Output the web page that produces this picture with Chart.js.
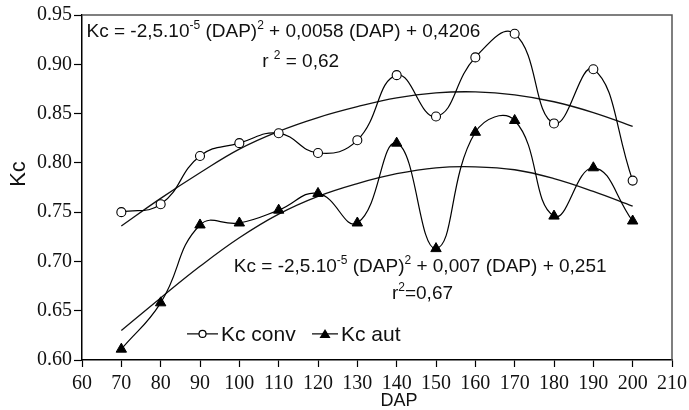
<!DOCTYPE html>
<html>
<head>
<meta charset="utf-8">
<script src="https://cdn.jsdelivr.net/npm/chart.js@4.4.1/dist/chart.umd.min.js"></script>
<style>
  html, body { margin: 0; padding: 0; background: #fff; }
</style>
</head>
<body>
<canvas id="myChart" width="689" height="410"></canvas>
<script>
const dap = [70, 80, 90, 100, 110, 120, 130, 140, 150, 160, 170, 180, 190, 200];
const kcConv = [0.750, 0.758, 0.807, 0.820, 0.830, 0.810, 0.823, 0.889, 0.847, 0.907, 0.931, 0.840, 0.895, 0.782];
const kcAut = [0.611, 0.658, 0.737, 0.739, 0.752, 0.769, 0.739, 0.820, 0.713, 0.831, 0.843, 0.746, 0.795, 0.741];
// fitted curves as drawn in the figure
const trendConv = [0.736, 0.764, 0.790, 0.814, 0.832, 0.846, 0.857, 0.866, 0.871, 0.872, 0.869, 0.862, 0.851, 0.837];
const trendAut = [0.630, 0.663, 0.695, 0.724, 0.748, 0.766, 0.779, 0.789, 0.795, 0.796, 0.793, 0.784, 0.771, 0.756];
const xTicks = [60, 70, 80, 90, 100, 110, 120, 130, 140, 150, 160, 170, 180, 190, 200, 210];
const yTicks = [0.60, 0.65, 0.70, 0.75, 0.80, 0.85, 0.90, 0.95];

const pts = (ys) => dap.map((x, i) => ({ x: x, y: ys[i] }));

const SANS = '"Liberation Sans", Arial, sans-serif';
const SERIF = '"Liberation Serif", "Times New Roman", serif';

// draws text with superscript parts: [text, isSup]
function drawRich(ctx, parts, x, y, size) {
  let cx = x;
  parts.forEach(([t, sup]) => {
    ctx.font = (sup ? Math.round(size * 0.62) : size) + 'px ' + SANS;
    ctx.fillText(t, cx, sup ? y - size * 0.42 : y);
    cx += ctx.measureText(t).width;
  });
}

const annotations = {
  id: 'annotations',
  afterDraw(chart) {
    const ctx = chart.ctx;
    const xs = chart.scales.x, ys = chart.scales.y;
    const a = chart.chartArea;
    ctx.save();

    // frame
    ctx.strokeStyle = '#555';
    ctx.lineWidth = 1.5;
    ctx.beginPath();
    ctx.moveTo(a.left, a.top);
    ctx.lineTo(a.right, a.top);
    ctx.lineTo(a.right, a.bottom);
    ctx.stroke();

    ctx.fillStyle = '#111';
    ctx.textBaseline = 'alphabetic';
    ctx.textAlign = 'left';
    drawRich(ctx, [['Kc = -2,5.10'], ['-5', true], [' (DAP)'], ['2', true], [' + 0,0058 (DAP) + 0,4206']],
      xs.getPixelForValue(61.15), ys.getPixelForValue(0.928), 19);
    drawRich(ctx, [['r '], ['2', true], [' = 0,62']],
      xs.getPixelForValue(105.8), ys.getPixelForValue(0.8976), 19);
    drawRich(ctx, [['Kc = -2,5.10'], ['-5', true], [' (DAP)'], ['2', true], [' + 0,007 (DAP) + 0,251']],
      xs.getPixelForValue(98.6), ys.getPixelForValue(0.6897), 19);
    drawRich(ctx, [['r'], ['2', true], ['=0,67']],
      xs.getPixelForValue(138.8), ys.getPixelForValue(0.662), 19);

    // legend
    const lx = xs.getPixelForValue(86.7), ly = ys.getPixelForValue(0.6265);
    ctx.strokeStyle = '#000';
    ctx.lineWidth = 1.2;
    ctx.beginPath(); ctx.moveTo(lx, ly); ctx.lineTo(lx + 31, ly); ctx.stroke();
    ctx.beginPath(); ctx.arc(lx + 15.5, ly, 3.5, 0, Math.PI * 2);
    ctx.fillStyle = '#fff'; ctx.fill(); ctx.stroke();
    ctx.fillStyle = '#111';
    ctx.font = '21px ' + SANS;
    ctx.textBaseline = 'middle';
    ctx.fillText('Kc conv', lx + 34, ly + 1);
    const lx2 = lx + 125;
    ctx.beginPath(); ctx.moveTo(lx2, ly); ctx.lineTo(lx2 + 26, ly); ctx.stroke();
    ctx.beginPath();
    ctx.moveTo(lx2 + 13, ly - 5); ctx.lineTo(lx2 + 18.5, ly + 4); ctx.lineTo(lx2 + 7.5, ly + 4);
    ctx.closePath(); ctx.fillStyle = '#000'; ctx.fill();
    ctx.fillStyle = '#111';
    ctx.fillText('Kc aut', lx2 + 29, ly + 1);

    // axis titles
    ctx.font = '18px ' + SANS;
    ctx.textAlign = 'center';
    ctx.fillText('DAP', a.left + 317, 401);
    ctx.translate(19, 174);
    ctx.rotate(-Math.PI / 2);
    ctx.font = '22px ' + SANS;
    ctx.fillText('Kc', 0, 0);
    ctx.restore();
  }
};

const ctx = document.getElementById('myChart');

const myChart = new Chart(ctx, {
  type: 'line',
  data: {
    datasets: [
      {
        label: 'Kc conv',
        data: pts(kcConv),
        borderColor: '#000',
        borderWidth: 1.2,
        tension: 0.45,
        pointStyle: 'circle',
        pointRadius: 4.5,
        pointBackgroundColor: '#fff',
        pointBorderColor: '#000',
        pointBorderWidth: 1.1,
        order: 1,
      },
      {
        label: 'Kc aut',
        data: pts(kcAut),
        borderColor: '#000',
        borderWidth: 1.2,
        tension: 0.45,
        pointStyle: 'triangle',
        pointRadius: 6,
        pointBackgroundColor: '#000',
        pointBorderColor: '#000',
        pointBorderWidth: 1,
        order: 1,
      },
      {
        label: 'trend conv',
        data: pts(trendConv),
        borderColor: '#111',
        borderWidth: 1.3,
        tension: 0.4,
        pointRadius: 0,
        order: 2,
      },
      {
        label: 'trend aut',
        data: pts(trendAut),
        borderColor: '#111',
        borderWidth: 1.3,
        tension: 0.4,
        pointRadius: 0,
        order: 2,
      }
    ]
  },
  options: {
    responsive: false,
    animation: false,
    devicePixelRatio: 1,
    layout: { padding: { top: 15, right: 17, left: 0, bottom: 0 } },
    plugins: {
      legend: { display: false },
      tooltip: { enabled: false },
    },
    scales: {
      x: {
        type: 'linear',
        min: 60,
        max: 210,
        afterBuildTicks: (s) => { s.ticks = xTicks.map(v => ({ value: v })); },
        afterFit: (s) => { s.height = 50; s.paddingLeft = 0; s.paddingRight = 0; },
        ticks: {
          color: '#111',
          font: { family: SERIF, size: 20 },
          padding: 5,
          maxRotation: 0,
          autoSkip: false,
        },
        grid: { drawOnChartArea: false, tickLength: 7, color: '#000', tickWidth: 1.2 },
        border: { color: '#000', width: 1.5 },
      },
      y: {
        type: 'linear',
        min: 0.60,
        max: 0.95,
        afterBuildTicks: (s) => { s.ticks = yTicks.map(v => ({ value: v })); },
        afterFit: (s) => { s.width = 82; s.paddingTop = 0; s.paddingBottom = 0; },
        ticks: {
          color: '#111',
          font: { family: SERIF, size: 20 },
          padding: 2,
          callback: (v) => v.toFixed(2),
        },
        grid: { drawOnChartArea: false, tickLength: 8, color: '#000', tickWidth: 1.2 },
        border: { color: '#000', width: 1.5 },
      }
    }
  },
  plugins: [annotations],
});
</script>
</body>
</html>
